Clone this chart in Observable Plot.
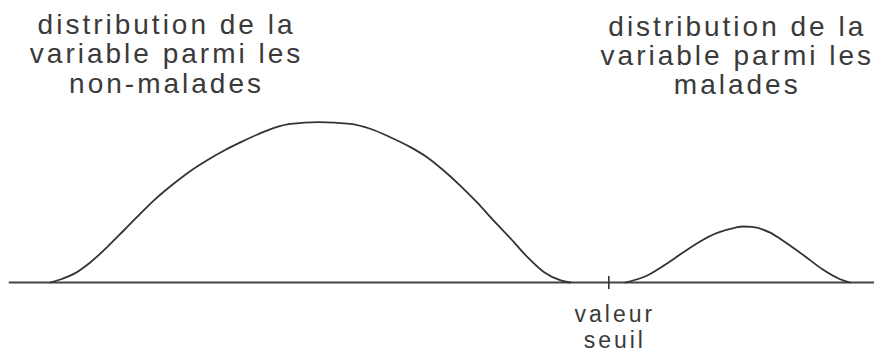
<!DOCTYPE html>
<html>
<head>
<meta charset="utf-8">
<script src="https://cdn.jsdelivr.net/npm/d3@7"></script>
<script src="https://cdn.jsdelivr.net/npm/@observablehq/plot@0.6"></script>
<style>
  html, body { margin: 0; padding: 0; background: #fff; }
</style>
</head>
<body>
<div id="chart"></div>
<script>
// Variable axis (arbitrary units 0–100) and density (arbitrary units, peak of non-malades = 100)
const nonMaladesX = [5.7, 7.0, 8.4, 10.3, 12.2, 14.1, 16.0, 17.9, 19.8, 21.7, 23.6, 25.6, 27.5, 29.4, 31.3, 33.2, 36.4, 40.0, 42.3, 44.6, 46.9, 48.8, 50.7, 52.6, 54.5, 56.4, 58.4, 60.3, 62.2, 64.1, 65.2];
const nonMaladesY = [0, 2.2, 5.4, 12.7, 22.1, 32.5, 43.0, 53.0, 61.7, 69.6, 76.3, 82.5, 87.7, 92.5, 96.7, 99.2, 100.2, 99.2, 96.1, 90.8, 84.6, 78.3, 70.0, 60.6, 50.2, 38.8, 27.3, 15.8, 6.4, 1.3, 0];

const maladesX = [71.5, 74, 76, 78, 80, 82, 84, 85, 86, 88, 89, 90, 92, 94, 96, 97.2];
const maladesY = [0, 4.4, 10.9, 18.4, 25.5, 31.0, 34.2, 35, 34.7, 31.3, 28.1, 24.4, 16.6, 8.4, 2.2, 0];

const seuil = 69.6;

const labelNonMalades = "distribution de la\nvariable parmi les\nnon-malades";
const labelMalades = "distribution de la\nvariable parmi les\nmalades";
const labelSeuil = "valeur\nseuil";

const nonMalades = nonMaladesX.map((x, i) => ({x, y: nonMaladesY[i]}));
const malades = maladesX.map((x, i) => ({x, y: maladesY[i]}));

const chart = Plot.plot({
  width: 874,
  height: 352,
  margin: 0,
  x: {domain: [0, 100], range: [0, 874], axis: null},
  y: {domain: [0, 100], range: [282, 122], axis: null},
  style: {
    fontFamily: "'Liberation Sans', Arial, sans-serif",
    fontSize: "28px",
    letterSpacing: "3px",
    background: "#fff",
    color: "#333"
  },
  marks: [
    Plot.ruleY([0], {x1: 1, x2: 100, stroke: "#444", strokeWidth: 2}),
    Plot.line(nonMalades, {x: "x", y: "y", curve: "monotone-x", stroke: "#333", strokeWidth: 1.8}),
    Plot.line(malades, {x: "x", y: "y", curve: "monotone-x", stroke: "#333", strokeWidth: 1.8}),
    Plot.ruleX([seuil], {y1: -4.4, y2: 3.8, stroke: "#333", strokeWidth: 1.6}),
    Plot.text([labelNonMalades], {x: 19, y: 168, text: d => d, lineAnchor: "top", lineHeight: 1.04, fill: "#3a3a3a", fontSize: 28}),
    Plot.text([labelMalades], {x: 84.3, y: 167, text: d => d, lineAnchor: "top", lineHeight: 1.04, fill: "#3a3a3a", fontSize: 28}),
    Plot.text([labelSeuil], {x: seuil, dx: 6, y: -13, text: d => d, lineAnchor: "top", lineHeight: 1.13, fill: "#3a3a3a", fontSize: 23})
  ]
});
document.getElementById("chart").appendChild(chart);
</script>
</body>
</html>
